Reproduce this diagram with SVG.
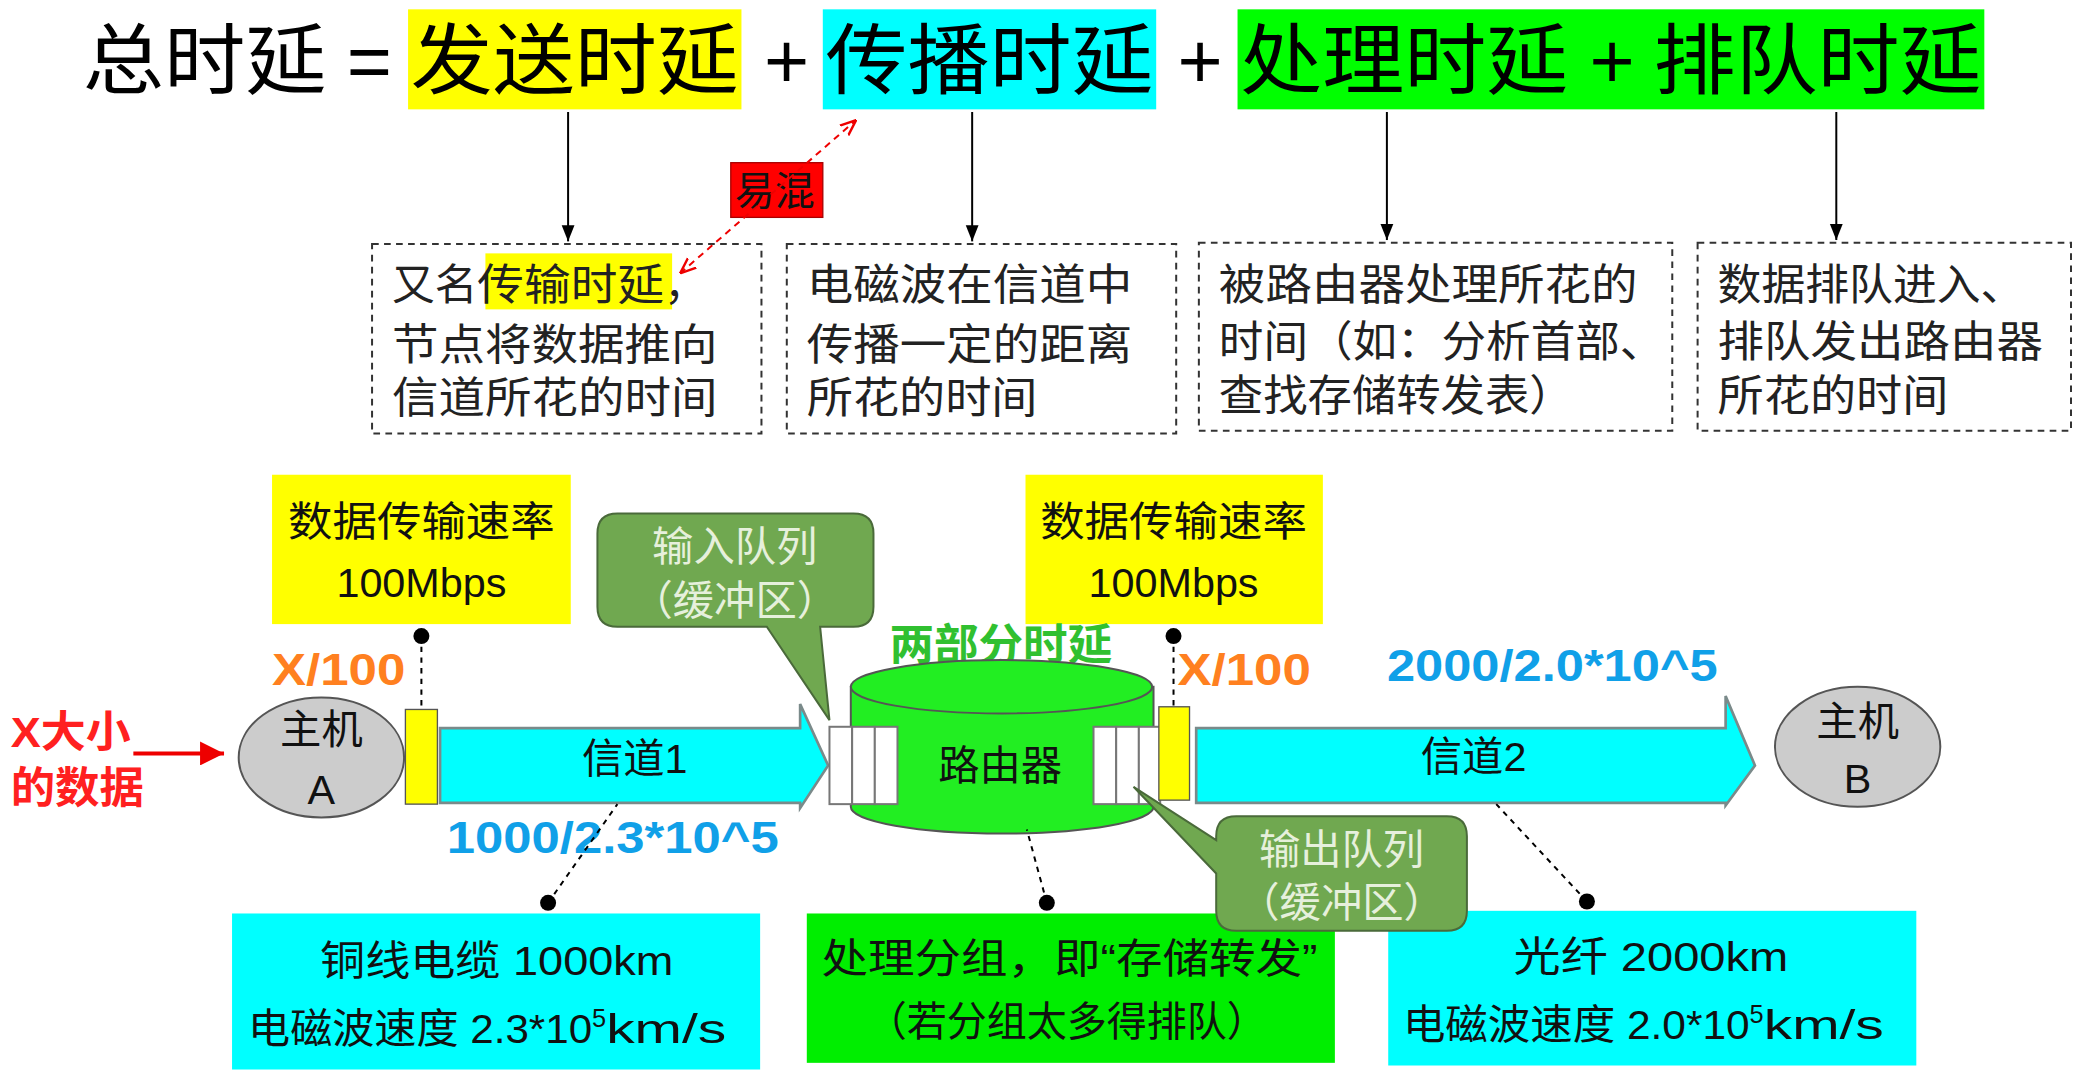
<svg xmlns="http://www.w3.org/2000/svg" width="2091" height="1087" viewBox="0 0 2091 1087">
<defs>
<style>
text{font-family:"Liberation Sans","Noto Sans CJK SC",sans-serif;}
.t{font-size:58px;fill:#000;}
.d{font-size:32px;fill:#222;}
.m{font-size:31px;fill:#111;}
.dash{fill:#fff;stroke:#333;stroke-width:1.5;stroke-dasharray:5,4;}
.ln{stroke:#000;stroke-width:1.5;fill:none;}
.dl{stroke:#000;stroke-width:1.5;stroke-dasharray:4,4;fill:none;}
.ch{fill:#00ffff;stroke:#7a8a8a;stroke-width:2;}
.cb{font-size:31px;fill:#e6f0dc;}
</style>
<marker id="ah" viewBox="0 0 10 10" refX="10" refY="5" markerWidth="8" markerHeight="8" orient="auto"><path d="M0,1L10,5L0,9z" fill="#000"/></marker>
<marker id="rh" viewBox="0 0 10 10" refX="10" refY="5" markerWidth="8" markerHeight="8" orient="auto-start-reverse"><path d="M0,1L10,5L0,9" fill="none" stroke="#e00" stroke-width="1.5"/></marker>
<marker id="rr" viewBox="0 0 10 10" refX="10" refY="5" markerWidth="6" markerHeight="6" orient="auto"><path d="M0,0L10,5L0,10z" fill="#e00"/></marker>
</defs>
<rect width="2091" height="1087" fill="#fff"/>
<g transform="scale(1.33355)">
<g id="title">
<rect x="306" y="7" width="250" height="75" fill="#ffff00"/>
<rect x="617" y="7" width="250" height="75" fill="#00ffff"/>
<rect x="928" y="7" width="560" height="75" fill="#00ff00"/>
<text class="t" x="62" y="66" textLength="183" lengthAdjust="spacingAndGlyphs">总时延</text>
<text class="t" x="260" y="66">=</text>
<text class="t" x="308" y="66" textLength="246" lengthAdjust="spacingAndGlyphs">发送时延</text>
<text class="t" x="573" y="66">+</text>
<text class="t" x="619" y="66" textLength="246" lengthAdjust="spacingAndGlyphs">传播时延</text>
<text class="t" x="883" y="66">+</text>
<text class="t" x="930" y="66" textLength="246" lengthAdjust="spacingAndGlyphs">处理时延</text>
<text class="t" x="1192" y="66">+</text>
<text class="t" x="1240" y="66" textLength="246" lengthAdjust="spacingAndGlyphs">排队时延</text>
</g>
<g id="yihun"><rect x="548" y="122" width="69" height="41" fill="#ff0000" stroke="#a00"/><text x="551" y="154" style="font-size:30px;fill:#111">易混</text></g>
<g id="box1"><rect class="dash" x="279" y="183" width="292" height="142"/><rect x="364" y="190" width="140" height="42" fill="#ffff00"/>
<text class="d" x="294" y="225">又名<tspan textLength="140" lengthAdjust="spacingAndGlyphs">传输时延</tspan>，</text><text class="d" x="294" y="270" textLength="244" lengthAdjust="spacingAndGlyphs">节点将数据推向</text><text class="d" x="294" y="310" textLength="244" lengthAdjust="spacingAndGlyphs">信道所花的时间</text></g>
<g id="box2"><rect class="dash" x="590" y="183" width="292" height="142"/>
<text class="d" x="605" y="225" textLength="244" lengthAdjust="spacingAndGlyphs">电磁波在信道中</text><text class="d" x="605" y="270" textLength="244" lengthAdjust="spacingAndGlyphs">传播一定的距离</text><text class="d" x="605" y="310" textLength="173" lengthAdjust="spacingAndGlyphs">所花的时间</text></g>
<g id="box3"><rect class="dash" x="899" y="182" width="355" height="141"/>
<text class="d" x="914" y="225" textLength="314" lengthAdjust="spacingAndGlyphs">被路由器处理所花的</text><text class="d" x="914" y="268" textLength="334" lengthAdjust="spacingAndGlyphs">时间（如：分析首部、</text><text class="d" x="914" y="308" textLength="266" lengthAdjust="spacingAndGlyphs">查找存储转发表）</text></g>
<g id="box4"><rect class="dash" x="1273" y="182" width="280" height="141"/>
<text class="d" x="1288" y="225" textLength="230" lengthAdjust="spacingAndGlyphs">数据排队进入、</text><text class="d" x="1288" y="268" textLength="244" lengthAdjust="spacingAndGlyphs">排队发出路由器</text><text class="d" x="1288" y="308" textLength="173" lengthAdjust="spacingAndGlyphs">所花的时间</text></g>
<g id="rate1"><rect x="204" y="356" width="224" height="112" fill="#ffff00"/><text class="m" x="216" y="402" textLength="200" lengthAdjust="spacingAndGlyphs">数据传输速率</text><text class="m" x="316" y="448" text-anchor="middle">100Mbps</text><circle cx="316" cy="477" r="6"/></g>
<g id="rate2"><rect x="769" y="356" width="223" height="112" fill="#ffff00"/><text class="m" x="780" y="402" textLength="200" lengthAdjust="spacingAndGlyphs">数据传输速率</text><text class="m" x="880" y="448" text-anchor="middle">100Mbps</text><circle cx="880" cy="477" r="6"/></g>
<g id="labels">
<text x="204" y="514" textLength="100" lengthAdjust="spacingAndGlyphs" style="font-size:33px;fill:#ff8020;font-weight:bold">X/100</text>
<text x="883" y="514" textLength="100" lengthAdjust="spacingAndGlyphs" style="font-size:33px;fill:#ff8020;font-weight:bold">X/100</text>
<text x="1040" y="511" textLength="248" lengthAdjust="spacingAndGlyphs" style="font-size:33px;fill:#10a0e8;font-weight:bold">2000/2.0*10^5</text>
<text x="335" y="640" textLength="249" lengthAdjust="spacingAndGlyphs" style="font-size:33px;fill:#10a0e8;font-weight:bold">1000/2.3*10^5</text>
<text x="667" y="495" textLength="167" lengthAdjust="spacingAndGlyphs" style="font-size:32px;fill:#30c030;font-weight:bold">两部分时延</text>
<text x="8" y="560" textLength="90" lengthAdjust="spacingAndGlyphs" style="font-size:32px;fill:#ff2020;font-weight:bold">X大小</text>
<text x="8" y="602" textLength="100" lengthAdjust="spacingAndGlyphs" style="font-size:32px;fill:#ff2020;font-weight:bold">的数据</text>
</g>
<g id="hostA"><ellipse cx="241" cy="568" rx="62" ry="45" fill="#cccccc" stroke="#555" stroke-width="1.5"/><text class="m" x="241" y="558" text-anchor="middle">主机</text><text class="m" x="241" y="603" text-anchor="middle">A</text></g>
<g id="hostB"><ellipse cx="1393" cy="560" rx="62" ry="45" fill="#cccccc" stroke="#555" stroke-width="1.5"/><text class="m" x="1393" y="552" text-anchor="middle">主机</text><text class="m" x="1393" y="595" text-anchor="middle">B</text></g>
<g id="channel1"><path class="ch" d="M330,546H600V528L621,574L600,606V602H330z"/><text class="m" x="476" y="580" text-anchor="middle">信道1</text></g>
<g id="channel2"><path class="ch" d="M897,546H1294V522L1316,574L1294,604V602H897z"/><text class="m" x="1105" y="578" text-anchor="middle">信道2</text></g>
<g id="router">
<path d="M638,515V605A113,20 0 0 0 865,605V515z" fill="#22ee22" stroke="#555" stroke-width="1.5"/>
<ellipse cx="751" cy="515" rx="113" ry="20" fill="#22ee22" stroke="#555" stroke-width="1.5"/>
<text class="m" x="750" y="585" text-anchor="middle">路由器</text>
<g fill="#fff" stroke="#777" stroke-width="1.5"><rect x="622" y="545" width="17" height="58"/><rect x="639" y="545" width="17" height="58"/><rect x="656" y="545" width="17" height="58"/>
<rect x="820" y="545" width="17" height="58"/><rect x="837" y="545" width="17" height="58"/><rect x="854" y="545" width="16" height="58"/></g>
</g>
<g id="bar1"><rect x="304" y="532" width="24" height="71" fill="#ffff00" stroke="#555"/></g>
<g id="bar2"><rect x="869" y="530" width="23" height="70" fill="#ffff00" stroke="#555"/></g>
<g id="inq"><path d="M463,385H640Q655,385 655,400V455Q655,470 640,470H615L622,540L575,470H463Q448,470 448,455V400Q448,385 463,385z" fill="#70a850" stroke="#4a6a3a" stroke-width="1.5"/><text class="cb" x="551" y="421" text-anchor="middle">输入队列</text><text class="cb" x="551" y="461" text-anchor="middle">（缓冲区）</text></g>
<g id="copper"><rect x="174" y="685" width="396" height="117" fill="#00ffff"/><circle cx="411" cy="677" r="6"/>
<text class="m" x="240" y="731" textLength="265" lengthAdjust="spacingAndGlyphs">铜线电缆 1000km</text><text class="m" x="186" y="782"><tspan textLength="258" lengthAdjust="spacingAndGlyphs">电磁波速度 2.3*10</tspan><tspan dy="-12" style="font-size:19px">5</tspan><tspan dy="12" textLength="90" lengthAdjust="spacingAndGlyphs">km/s</tspan></text></g>
<g id="process"><rect x="605" y="685" width="396" height="112" fill="#00ee00"/><circle cx="785" cy="677" r="6"/>
<text class="m" x="616" y="730" textLength="372" lengthAdjust="spacingAndGlyphs">处理分组，即“存储转发”</text><text class="m" x="650" y="777" textLength="300" lengthAdjust="spacingAndGlyphs">（若分组太多得排队）</text></g>
<g id="fiber"><rect x="1041" y="683" width="396" height="116" fill="#00ffff"/><circle cx="1190" cy="676" r="6"/>
<text class="m" x="1135" y="728" textLength="206" lengthAdjust="spacingAndGlyphs">光纤 2000km</text><text class="m" x="1052" y="779"><tspan textLength="260" lengthAdjust="spacingAndGlyphs">电磁波速度 2.0*10</tspan><tspan dy="-12" style="font-size:19px">5</tspan><tspan dy="12" textLength="90" lengthAdjust="spacingAndGlyphs">km/s</tspan></text></g>
<g id="outq"><path d="M927,612H1085Q1100,612 1100,627V683Q1100,698 1085,698H927Q912,698 912,683V655L850,590L912,630V627Q912,612 927,612z" fill="#70a850" stroke="#4a6a3a" stroke-width="1.5"/><text class="cb" x="1006" y="648" text-anchor="middle">输出队列</text><text class="cb" x="1006" y="688" text-anchor="middle">（缓冲区）</text></g>
<g id="connectors">
<line class="ln" x1="426" y1="84" x2="426" y2="181" marker-end="url(#ah)"/>
<line class="ln" x1="729" y1="84" x2="729" y2="181" marker-end="url(#ah)"/>
<line class="ln" x1="1040" y1="84" x2="1040" y2="180" marker-end="url(#ah)"/>
<line class="ln" x1="1377" y1="84" x2="1377" y2="180" marker-end="url(#ah)"/>
<line x1="510" y1="205" x2="642" y2="90" stroke="#e00" stroke-width="1.5" stroke-dasharray="5,4" marker-start="url(#rh)" marker-end="url(#rh)"/>
<line class="dl" x1="316" y1="477" x2="316" y2="532"/>
<line class="dl" x1="880" y1="477" x2="880" y2="530"/>
<line class="dl" x1="411" y1="677" x2="463" y2="603"/>
<line class="dl" x1="785" y1="677" x2="770" y2="622"/>
<line class="dl" x1="1190" y1="676" x2="1122" y2="603"/>
<line x1="100" y1="565" x2="168" y2="565" stroke="#e00" stroke-width="3" marker-end="url(#rr)"/>
</g>
</g>
</svg>
